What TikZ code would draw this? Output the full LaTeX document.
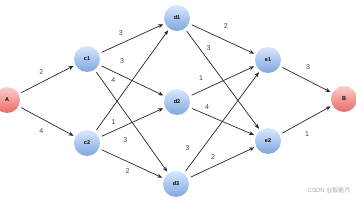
\documentclass[tikz,border=0pt]{standalone}
\usepackage{fontspec}
\setmainfont{Liberation Sans}
\newfontfamily\cjk{Noto Sans CJK SC}
\usetikzlibrary{arrows.meta}
\definecolor{nodetop}{HTML}{DAE8FC}
\definecolor{nodebot}{HTML}{7EA6E0}
\definecolor{termtop}{HTML}{F8CECC}
\definecolor{termbot}{HTML}{EA6B66}
\definecolor{wtext}{HTML}{444444}

\begin{document}
\begin{tikzpicture}[x=1pt, y=-1pt, >={Stealth[length=5pt, width=4pt]},
  vtx/.style={circle, minimum size=26pt, inner sep=0pt, top color=nodetop, bottom color=nodebot, font=\fontsize{5.5}{6}\selectfont\bfseries},
  term/.style={vtx, top color=termtop, bottom color=termbot},
  edge/.style={->, line width=0.7pt, black!85, shorten <=3pt, shorten >=2pt},
  wt/.style={font=\fontsize{7}{8}\selectfont, text=wtext, inner sep=1pt}]
\useasboundingbox (0,0) rectangle (356,200);
\node[term] (A)  at (7,100)   {A};
\node[vtx]  (c1) at (87,59)   {c1};
\node[vtx]  (c2) at (87,143)  {c2};
\node[vtx]  (d1) at (177,18)  {d1};
\node[vtx]  (d2) at (177,102) {d2};
\node[vtx]  (d3) at (176,184) {d3};
\node[vtx]  (e1) at (268,60)  {e1};
\node[vtx]  (e2) at (268,141) {e2};
\node[term] (B)  at (344,99)  {B};
% first layer
\draw[edge] (A) -- (c1) node[wt, pos=0.4, above=7pt]{2};
\draw[edge] (A) -- (c2) node[wt, pos=0.4, below=9pt]{4};
% c -> d
\draw[edge] (c1) -- (d1) node[wt, pos=0.33, above=7pt]{3};
\draw[edge] (c1) -- (d2) node[wt, pos=0.35, above=11pt]{3};
\draw[edge] (c1) -- (d3) node[wt, pos=0.1, right=8pt]{4};
\draw[edge] (c2) -- (d1) node[wt, pos=0.1, right=8pt]{1};
\draw[edge] (c2) -- (d2) node[wt, pos=0.4, below=11pt]{3};
\draw[edge] (c2) -- (d3) node[wt, pos=0.44, below=6pt]{2};
% d -> e
\draw[edge] (d1) -- (e1) node[wt, pos=0.55, above=11pt]{2};
\draw[edge] (d1) -- (e2) node[wt, pos=0.19, right=6pt]{3};
\draw[edge] (d2) -- (e1) node[wt, pos=0.18, above=9pt]{1};
\draw[edge] (d2) -- (e2) node[wt, pos=0.27, above=4pt]{4};
\draw[edge] (d3) -- (e1) node[wt, pos=0.25, left=12pt]{3};
\draw[edge] (d3) -- (e2) node[wt, pos=0.37, above=6pt]{2};
% last layer
\draw[edge] (e1) -- (B) node[wt, pos=0.54, above=10pt]{3};
\draw[edge] (e2) -- (B) node[wt, pos=0.52, below=11pt]{1};
\node[font=\fontsize{6}{7}\selectfont, text=black!35, anchor=east] (mark) at (354,190) {CSDN @{\cjk 智能汽}};
\end{tikzpicture}
\end{document}
